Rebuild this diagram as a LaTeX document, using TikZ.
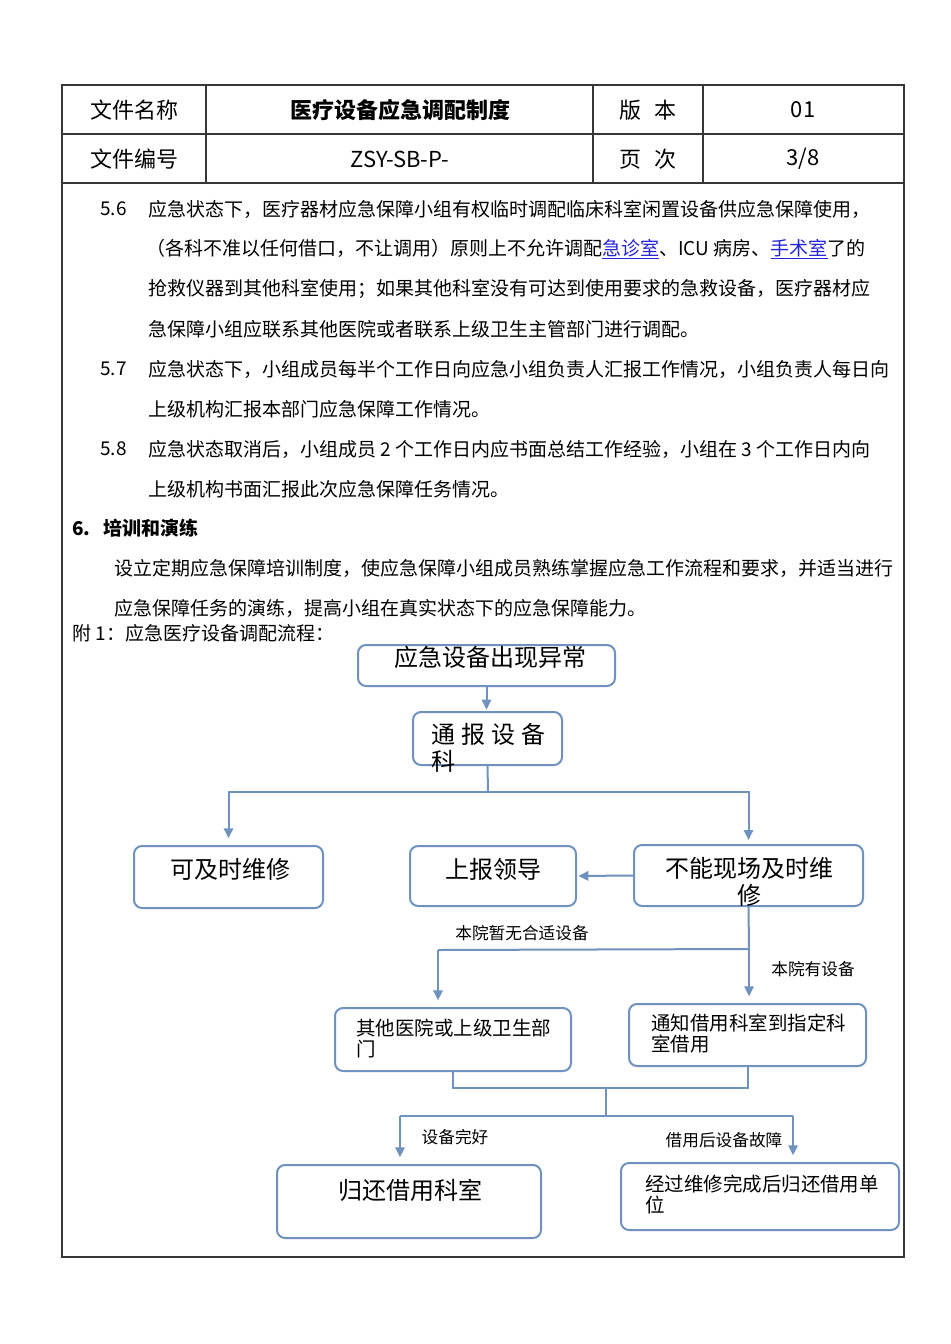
\documentclass[tikz,border=0pt]{standalone}
\usepackage{fontspec}
\setmainfont{Noto Sans CJK SC}
\usetikzlibrary{positioning, arrows.meta, fit}
\definecolor{fblue}{RGB}{112,146,190}
\definecolor{lkblue}{RGB}{36,36,214}
\definecolor{frm}{RGB}{55,55,55}
\newcommand\szhead{\fontsize{16.5}{18}\selectfont}
\newcommand\szbody{\fontsize{14.25}{16}\selectfont}
\newcommand\szbig{\fontsize{18}{20.3}\selectfont}
\newcommand\szsmall{\fontsize{14.6}{15.8}\selectfont}
\newcommand\szlbl{\fontsize{12.5}{14}\selectfont}
\newcommand\lk[1]{\textcolor{lkblue}{\underline{#1}}}

\begin{document}
\begin{tikzpicture}[x=0.75pt, y=-0.75pt, >={Triangle[length=7.5pt,width=7pt]},
          tx/.style ={inner sep=0pt, text=black},
          ln/.style ={anchor=west, inner sep=0pt, font=\szbody},
          bx/.style ={draw=fblue, line width=1.5pt, rounded corners=6pt, inner sep=0pt},
          bt/.style ={inner sep=0pt, font=\szbig},
          st/.style ={inner sep=0pt, font=\szsmall, align=left, anchor=north west},
          lb/.style ={inner sep=0pt, font=\szlbl},
          cn/.style ={draw=fblue, line width=1.5pt},
          ar/.style ={cn, ->, shorten >=1pt}]
  \fill[white] (0,0) rectangle (950,1344);
  \useasboundingbox (0,0) rectangle (950,1344);
  % page frame and header table
  \draw[frm, line width=1.1pt] (62,85) rectangle (904,1257);
  \draw[frm, line width=1.1pt] (62,134) -- (904,134) (62,183) -- (904,183);
  \draw[frm, line width=1.1pt] (206,85) -- (206,183) (593,85) -- (593,183) (703,85) -- (703,183);
  \node[tx, font=\szhead] (h1) at (134,110) {文件名称};
  \node[tx, font=\szhead\bfseries] (h2) at (400,110) {医疗设备应急调配制度};
  \node[tx, font=\szhead] (h3) at (648,110) {版\hspace{0.6em}本};
  \node[tx, font=\szhead] (h4) at (803,110) {01};
  \node[tx, font=\szhead] (h5) at (134,159) {文件编号};
  \node[tx, font=\szhead] (h6) at (400,159) {ZSY-SB-P-};
  \node[tx, font=\szhead] (h7) at (648,159) {页\hspace{0.6em}次};
  \node[tx, font=\szhead] (h8) at (803,159) {3/8};
  % body text
  \node[ln] (n56) at (100,209) {5.6};
  \node[ln] (p1) at (148,209) {应急状态下，医疗器材应急保障小组有权临时调配临床科室闲置设备供应急保障使用，};
  \node[ln] (p2) at (146,249) {（各科不准以任何借口，不让调用）原则上不允许调配\lk{急诊室}、ICU 病房、\lk{手术室}了的};
  \node[ln] (p3) at (148,289) {抢救仪器到其他科室使用；如果其他科室没有可达到使用要求的急救设备，医疗器材应};
  \node[ln] (p4) at (148,329) {急保障小组应联系其他医院或者联系上级卫生主管部门进行调配。};
  \node[ln] (n57) at (100,369) {5.7};
  \node[ln] (p5) at (148,369) {应急状态下，小组成员每半个工作日向应急小组负责人汇报工作情况，小组负责人每日向};
  \node[ln] (p6) at (148,409) {上级机构汇报本部门应急保障工作情况。};
  \node[ln] (n58) at (100,449) {5.8};
  \node[ln] (p7) at (148,449) {应急状态取消后，小组成员 2 个工作日内应书面总结工作经验，小组在 3 个工作日内向};
  \node[ln] (p8) at (148,489) {上级机构书面汇报此次应急保障任务情况。};
  \node[ln, font=\szbody\bfseries] (s6) at (72,528) {6.\hspace{0.7em}培训和演练};
  \node[ln] (p9) at (114,568) {设立定期应急保障培训制度，使应急保障小组成员熟练掌握应急工作流程和要求，并适当进行};
  \node[ln] (p10) at (114,608) {应急保障任务的演练，提高小组在真实状态下的应急保障能力。};
  \node[ln] (fu) at (72,633) {附 1：应急医疗设备调配流程：};
  % flow chart boxes
  \node[bx, fit={(358,645) (615,686)}] (b1) {};
  \node[bx, fit={(413,712) (562,765)}] (b2) {};
  \node[bx, fit={(134,846) (323,908)}] (b3) {};
  \node[bx, fit={(410,846) (576,906)}] (b4) {};
  \node[bx, fit={(634,845) (863,906)}] (b5) {};
  \node[bx, fit={(335,1008) (571,1071)}] (b6) {};
  \node[bx, fit={(629,1004) (866,1066)}] (b7) {};
  \node[bx, fit={(277,1165) (541,1238)}] (b8) {};
  \node[bx, fit={(621,1163) (899,1230)}] (b9) {};
  \node[bt] (t1) at (490,657) {应急设备出现异常};
  \node[bt, align=left, anchor=north west] (t2) at (431,723) {通\hspace{4.5pt}报\hspace{4.5pt}设\hspace{4.5pt}备\\科};
  \node[bt] (t3) at (230,869) {可及时维修};
  \node[bt] (t4) at (493,869) {上报领导};
  \node[bt, align=center, anchor=north] (t5) at (749,857) {不能现场及时维\\修};
  \node[st] (t6) at (356,1019) {其他医院或上级卫生部\\门};
  \node[st] (t7) at (651,1014) {通知借用科室到指定科\\室借用};
  \node[bt] (t8) at (410,1190) {归还借用科室};
  \node[st] (t9) at (645,1175) {经过维修完成后归还借用单\\位};
  % connectors
  \draw[ar] (b1.south) -- (b1.south |- b2.north);
  \coordinate (j1) at (488,792);
  \draw[cn] (b2.south) -- (j1);
  \draw[ar, shorten >=5pt] (j1) -| (b3.north);
  \draw[ar, shorten >=3pt] (j1) -| (b5.north);
  \draw[ar] (b5.west) -- (b4.east);
  \coordinate (j2) at (749,949);
  \coordinate (j2l) at (438,950);
  \draw[cn] (b5.south) -- (j2) -- (j2l);
  \draw[ar, shorten >=5pt] (j2l) -- (j2l |- b6.north);
  \draw[ar, shorten >=5pt] (j2) -- (j2 |- b7.north);
  \node[lb] (l1) at (522,933) {本院暂无合适设备};
  \node[lb] (l2) at (813,969) {本院有设备};
  \coordinate (j3) at (606,1088);
  \draw[cn] (b6.south) |- (j3) -| (b7.south);
  \coordinate (j4) at (606,1116);
  \coordinate (j4l) at (400,1116);
  \coordinate (j4r) at (793,1116);
  \draw[cn] (j3) -- (j4) (j4l) -- (j4r);
  \draw[ar, shorten >=5pt] (j4l) -- (j4l |- b8.north);
  \draw[ar, shorten >=5pt] (j4r) -- (j4r |- b9.north);
  \node[lb] (l3) at (455,1137) {设备完好};
  \node[lb] (l4) at (724,1140) {借用后设备故障};
\end{tikzpicture}
\end{document}
